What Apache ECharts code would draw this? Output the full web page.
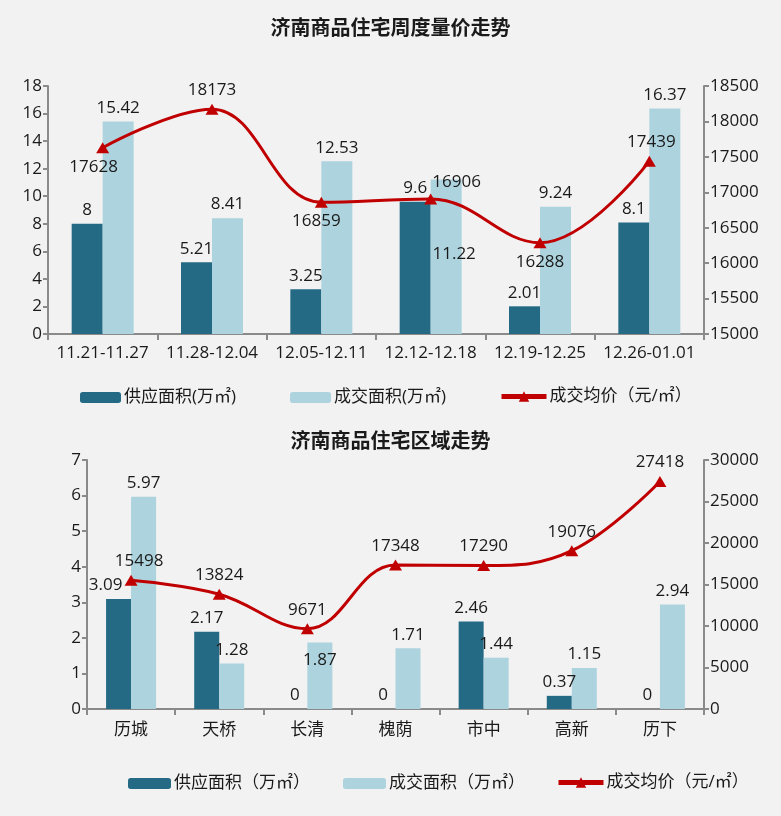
<!DOCTYPE html>
<html><head><meta charset="utf-8">
<script src="https://cdn.jsdelivr.net/npm/echarts@6/dist/echarts.min.js"></script>
<style>html,body{margin:0;padding:0;background:#f2f2f2}#c{width:781px;height:816px}</style>
</head><body><div id="c"></div>
<script>
// ---- data: weekly ----
const weeks = ['11.21-11.27','11.28-12.04','12.05-12.11','12.12-12.18','12.19-12.25','12.26-01.01'];
const weekSupply = [8, 5.21, 3.25, 9.6, 2.01, 8.1];
const weekDeal = [15.42, 8.41, 12.53, 11.22, 9.24, 16.37];
const weekPrice = [17628, 18173, 16859, 16906, 16288, 17439];
// ---- data: districts ----
const districts = ['历城','天桥','长清','槐荫','市中','高新','历下'];
const distSupply = [3.09, 2.17, 0, 0, 2.46, 0.37, 0];
const distDeal = [5.97, 1.28, 1.87, 1.71, 1.44, 1.15, 2.94];
const distPrice = [15498, 13824, 9671, 17348, 17290, 19076, 27418];

const names1 = ['供应面积(万㎡)','成交面积(万㎡)','成交均价（元/㎡）'];
const names2 = ['供应面积（万㎡）','成交面积（万㎡）','成交均价（元/㎡） '];

const FONT = "'Open Sans','Noto Sans CJK SC',sans-serif";
const TXT = '#1a1a1a';
const DARK = '#256a85', LIGHT = '#add3de', RED = '#c00000', AX = '#8a8a8a';

// label style tweaks (index -> label override)
const wkPriceLbl = {0:{position:'bottom',offset:[-9,0]},2:{position:'bottom',offset:[-5,0]},3:{position:'top',offset:[26,2]},4:{position:'bottom'},5:{position:'top',offset:[2,0]}};
const wkDealLbl = {3:{position:'insideTop',offset:[8,61]}};
const dsSupplyLbl = {0:{offset:[-13,0]}};
const dsDealLbl = {2:{position:'insideTop',offset:[0,4]}};
const dsPriceLbl = {0:{offset:[8,0]}};

function mk(arr, tweaks){ return arr.map((v,i)=> tweaks[i] ? {value:v, label:tweaks[i]} : v); }

const lblBase = {show:true, position:'top', color:TXT, fontSize:17, fontFamily:FONT};
function xAx(grid, data, margin){
  return {type:'category', gridIndex:grid, data:data,
    axisLine:{lineStyle:{color:AX,width:2}}, axisTick:{show:true,length:6,lineStyle:{color:AX,width:2}},
    axisLabel:{color:TXT,fontSize:17,fontFamily:FONT,margin:margin,interval:0}};
}
function yAx(grid, pos, min, max, interval){
  return {type:'value', gridIndex:grid, position:pos, min:min, max:max, interval:interval,
    splitLine:{show:false},
    axisLine:{show:true,lineStyle:{color:AX,width:2}}, axisTick:{show:true,length:5,lineStyle:{color:AX,width:2}},
    axisLabel:{color:TXT,fontSize:17,fontFamily:FONT,margin:6,formatter:(v)=>String(v)}};
}
function leg(name, left, top, w, isLine){
  const l = {data:[name], left:left, top:top, itemWidth:w, itemHeight:isLine?13:11, itemGap:0,
    textStyle:{color:TXT,fontSize:17,fontFamily:FONT,padding:[0,0,0,-2]}, selectedMode:false};
  if (isLine) l.lineStyle = {width:5};
  return l;
}

const option = {
  backgroundColor:'#f2f2f2',
  animation:false,
  title:[
    {text:'济南商品住宅周度量价走势', left:'center', top:12, textStyle:{fontSize:20,fontWeight:'bold',color:TXT,fontFamily:"'Noto Sans CJK SC',sans-serif"}},
    {text:'济南商品住宅区域走势', left:'center', top:425, textStyle:{fontSize:20,fontWeight:'bold',color:TXT,fontFamily:"'Noto Sans CJK SC',sans-serif"}}
  ],
  legend:[
    leg(names1[0],75,384,41), leg(names1[1],285,384,41), leg(names1[2],494,383,45,true),
    leg(names2[0],123,770,43), leg(names2[1],338,770,43), leg(names2[2],551,769,45,true)
  ],
  grid:[
    {left:48, top:86, width:656, height:248},
    {left:87, top:460, width:617, height:249}
  ],
  xAxis:[xAx(0, weeks, 11), xAx(1, districts, 13)],
  yAxis:[yAx(0,'left',0,18,2), yAx(0,'right',15000,18500,500), yAx(1,'left',0,7,1), yAx(1,'right',0,30000,5000)],
  series:[
    {name:names1[0], type:'bar', xAxisIndex:0, yAxisIndex:0, data:mk(weekSupply,{}), barWidth:31, barGap:'0%', itemStyle:{color:DARK}, label:lblBase},
    {name:names1[1], type:'bar', xAxisIndex:0, yAxisIndex:0, data:mk(weekDeal,wkDealLbl), barWidth:31, barGap:'0%', itemStyle:{color:LIGHT}, label:lblBase},
    {name:names1[2], type:'line', xAxisIndex:0, yAxisIndex:1, data:mk(weekPrice,wkPriceLbl), smooth:0.4, symbol:'triangle', symbolSize:[13,11],
      lineStyle:{color:RED,width:3}, itemStyle:{color:RED}, label:lblBase, z:5},
    {name:names2[0], type:'bar', xAxisIndex:1, yAxisIndex:2, data:mk(distSupply,dsSupplyLbl), barWidth:25, barGap:'0%', itemStyle:{color:DARK}, label:lblBase},
    {name:names2[1], type:'bar', xAxisIndex:1, yAxisIndex:2, data:mk(distDeal,dsDealLbl), barWidth:25, barGap:'0%', itemStyle:{color:LIGHT}, label:lblBase},
    {name:names2[2], type:'line', xAxisIndex:1, yAxisIndex:3, data:mk(distPrice,dsPriceLbl), smooth:0.4, symbol:'triangle', symbolSize:[13,11],
      lineStyle:{color:RED,width:3}, itemStyle:{color:RED}, label:lblBase, z:5}
  ]
};
const chart = echarts.init(document.getElementById('c'), null, {renderer:'canvas'});
chart.setOption(option);
</script></body></html>
